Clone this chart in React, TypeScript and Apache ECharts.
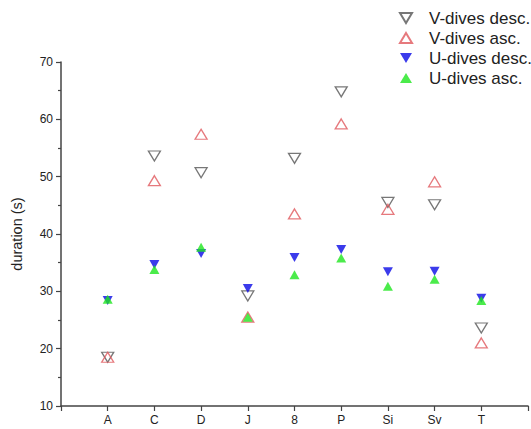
import React, { useEffect, useRef } from "react";
import * as echarts from "echarts";

const categories = ["A", "C", "D", "J", "8", "P", "Si", "Sv", "T"];
const vDivesDesc = [18.5, 53.6, 50.7, 29.2, 53.2, 64.8, 45.5, 45.1, 23.6];
const vDivesAsc = [18.5, 49.3, 57.4, 25.5, 43.5, 59.2, 44.3, 49.1, 21.0];
const uDivesDesc = [28.4, 34.7, 36.6, 30.5, 35.9, 37.3, 33.4, 33.5, 28.8];
const uDivesAsc = [28.6, 33.8, 37.7, 25.5, 32.9, 35.8, 30.9, 32.1, 28.4];

const FONT = "Liberation Sans, Arial, sans-serif";
const DOWN = "path://M0,0L12,0L6,10Z";
const UP = "path://M6,0L12,10L0,10Z";

const toPairs = (vals: number[]) => vals.map((v, i) => [i + 1, v]);

export default function App() {
  const ref = useRef<HTMLDivElement>(null);
  useEffect(() => {
    if (!ref.current) return;
    const chart = echarts.init(ref.current, null, { renderer: "svg" });
    chart.setOption({
      animation: false,
      backgroundColor: "#ffffff",
      textStyle: { fontFamily: FONT },
      legend: {
        orient: "vertical",
        left: 394,
        top: 4.5,
        itemGap: 3,
        itemWidth: 12,
        itemHeight: 10,
        textStyle: {
          fontFamily: FONT,
          fontSize: 17,
          lineHeight: 17,
          color: "#222",
          padding: [0, 0, 0, 12],
        },
        data: [
          { name: "V-dives desc.", icon: DOWN },
          { name: "V-dives asc.", icon: UP },
          { name: "U-dives desc.", icon: DOWN },
          { name: "U-dives asc.", icon: UP },
        ],
      },
      grid: { left: 61, right: 3, top: 62, bottom: 23, containLabel: false },
      xAxis: {
        type: "value",
        min: 0,
        max: 10,
        interval: 1,
        axisLine: { show: true, lineStyle: { color: "#444", width: 1.5 } },
        axisTick: { show: true, length: 5, lineStyle: { color: "#444", width: 1.2 } },
        splitLine: { show: false },
        axisLabel: {
          fontFamily: FONT,
          fontSize: 12,
          color: "#222",
          margin: 8,
          formatter: (v: number) => (v >= 1 && v <= categories.length ? categories[v - 1] : ""),
        },
      },
      yAxis: {
        type: "value",
        min: 10,
        max: 70,
        interval: 10,
        name: "duration (s)",
        nameLocation: "middle",
        nameGap: 37,
        nameTextStyle: { fontFamily: FONT, fontSize: 14.5, color: "#222" },
        axisLine: { show: true, lineStyle: { color: "#444", width: 1.5 } },
        axisTick: { show: true, length: 5, lineStyle: { color: "#444", width: 1.2 } },
        minorTick: { show: true, splitNumber: 2, length: 3, lineStyle: { color: "#444", width: 1.2 } },
        splitLine: { show: false },
        axisLabel: { fontFamily: FONT, fontSize: 12, color: "#222", margin: 8 },
      },
      series: [
        {
          name: "V-dives desc.",
          type: "scatter",
          symbol: "triangle",
          symbolRotate: 180,
          symbolSize: [12, 10],
          itemStyle: { color: "rgba(255,255,255,0)", borderColor: "#555", borderWidth: 1.3 },
          data: toPairs(vDivesDesc),
          z: 2,
        },
        {
          name: "V-dives asc.",
          type: "scatter",
          symbol: "triangle",
          symbolSize: [12, 10],
          itemStyle: { color: "rgba(255,255,255,0)", borderColor: "#e0585c", borderWidth: 1.3 },
          data: toPairs(vDivesAsc),
          z: 3,
        },
        {
          name: "U-dives desc.",
          type: "scatter",
          symbol: "triangle",
          symbolRotate: 180,
          symbolSize: [10, 9],
          itemStyle: { color: "#0a0ae6" },
          data: toPairs(uDivesDesc),
          z: 4,
        },
        {
          name: "U-dives asc.",
          type: "scatter",
          symbol: "triangle",
          symbolSize: [10, 9],
          itemStyle: { color: "#1ee61e" },
          data: toPairs(uDivesAsc),
          z: 5,
        },
      ],
    });
    return () => chart.dispose();
  }, []);
  return <div ref={ref} style={{ width: 531, height: 429, position: "fixed", left: 0, top: 0 }} />;
}
